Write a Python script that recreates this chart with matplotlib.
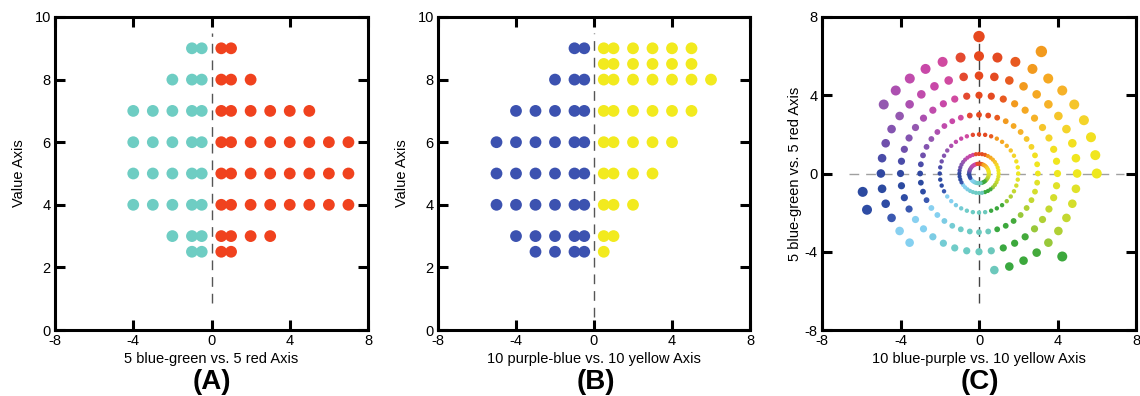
import matplotlib
matplotlib.use("Agg")
import matplotlib.pyplot as plt
import numpy as np

plt.rcParams['font.family'] = ['Liberation Sans', 'DejaVu Sans']

# ---------------- Panel A data ----------------
a_rows = [9, 8, 7, 6, 5, 4, 3, 2.5]
a_teal_x = [[-1, -0.5], [-2, -1, -0.5], [-4, -3, -2, -1, -0.5], [-4, -3, -2, -1, -0.5],
            [-4, -3, -2, -1, -0.5], [-4, -3, -2, -1, -0.5], [-2, -1, -0.5], [-1, -0.5]]
a_red_x = [[0.5, 1], [0.5, 1, 2], [0.5, 1, 2, 3, 4, 5], [0.5, 1, 2, 3, 4, 5, 6, 7],
           [0.5, 1, 2, 3, 4, 5, 6, 7], [0.5, 1, 2, 3, 4, 5, 6, 7], [0.5, 1, 2, 3], [0.5, 1]]

# ---------------- Panel B data ----------------
b_blue_rows = [9, 8, 7, 6, 5, 4, 3, 2.5]
b_blue_x = [[-1, -0.5], [-2, -1, -0.5], [-4, -3, -2, -1, -0.5], [-5, -4, -3, -2, -1, -0.5],
            [-5, -4, -3, -2, -1, -0.5], [-5, -4, -3, -2, -1, -0.5], [-4, -3, -2, -1, -0.5],
            [-3, -2, -1, -0.5]]
b_yellow_rows = [9, 8.5, 8, 7, 6, 5, 4, 3, 2.5]
b_yellow_x = [[0.5, 1, 2, 3, 4, 5], [0.5, 1, 2, 3, 4, 5], [0.5, 1, 2, 3, 4, 5, 6],
              [0.5, 1, 2, 3, 4, 5], [0.5, 1, 2, 3, 4], [0.5, 1, 2, 3], [0.5, 1, 2],
              [0.5, 1], [0.5]]

# ---------------- Panel C data ----------------
# 40 hues, clockwise from the top (red) in 9 degree steps
hue_colors = ['#e6481e', '#e44a22', '#e85a20', '#f29a1e', '#f5a822', '#f6b228', '#f5c52a',
              '#f4d42a', '#f2e020', '#f0e61e', '#eee81e', '#e0e228', '#d4de2c', '#c4d830',
              '#b0d034', '#98c83a', '#44aa3c', '#3ca83c', '#3aa840', '#6cc8bc', '#6ccbc0',
              '#6ccbc4', '#70ccc8', '#74ccd4', '#7ccce4', '#84d0f0', '#88d0f0', '#3a58b0',
              '#2e4ca4', '#2c4aa0', '#3048a0', '#4a4ca8', '#7050ac', '#8454b0', '#9458b0',
              '#ac50b0', '#c04cac', '#c848a8', '#d04aa0', '#e44a30']
max_chroma = [7, 6, 6, 7, 6, 6, 6, 6, 6, 6, 6, 5, 5, 5, 5, 6, 5, 5, 5, 5,
              4, 4, 4, 4, 4, 5, 5, 5, 6, 6, 5, 5, 5, 5, 6, 6, 6, 6, 6, 6]
chroma_levels = [0.5, 1, 2, 3, 4, 5, 6, 7]
color_override = {(15, 6): '#3ca83c'}

TEAL, RED, BLUE, YELLOW = '#6ecdc3', '#f0421e', '#3c52b0', '#f2ea1e'
FS = 10.5

fig = plt.figure(figsize=(11.4, 3.96), dpi=100)
W, H = 1140, 396


def make_ax(left, right, top=17, bottom=330):
    return fig.add_axes([left / W, 1 - bottom / H, (right - left) / W, (bottom - top) / H])


def style(ax, xt, yt):
    for sp in ax.spines.values():
        sp.set_linewidth(2.2)
    ax.tick_params(direction='in', length=7, width=2.2, top=True, right=True,
                   labelsize=FS, pad=3)
    ax.set_xticks(xt)
    ax.set_yticks(yt)
    ax.set_xticklabels([str(v) for v in xt])
    ax.set_yticklabels([str(v) for v in yt])


ms = 72
axA = make_ax(55, 368)
axA.set_xlim(-8, 8)
axA.set_ylim(0, 10)
axA.plot([0, 0], [0.85, 9.5], color='#555555', lw=1, ls=(0, (7, 5)), zorder=1)
for y, xs in zip(a_rows, a_teal_x):
    axA.scatter(xs, [y] * len(xs), s=ms, color=TEAL, edgecolors='none', zorder=2)
for y, xs in zip(a_rows, a_red_x):
    axA.scatter(xs, [y] * len(xs), s=ms, color=RED, edgecolors='none', zorder=2)
style(axA, [-8, -4, 0, 4, 8], [0, 2, 4, 6, 8, 10])
axA.set_xlabel('5 blue-green vs. 5 red Axis', fontsize=FS, labelpad=3)
axA.set_ylabel('Value Axis', fontsize=FS, labelpad=6)

axB = make_ax(438, 750)
axB.set_xlim(-8, 8)
axB.set_ylim(0, 10)
axB.plot([0, 0], [0.4, 9.5], color='#555555', lw=1, ls=(0, (7, 5)), zorder=1)
for y, xs in zip(b_blue_rows, b_blue_x):
    axB.scatter(xs, [y] * len(xs), s=ms, color=BLUE, edgecolors='none', zorder=2)
for y, xs in zip(b_yellow_rows, b_yellow_x):
    axB.scatter(xs, [y] * len(xs), s=ms, color=YELLOW, edgecolors='none', zorder=2)
style(axB, [-8, -4, 0, 4, 8], [0, 2, 4, 6, 8, 10])
axB.set_xlabel('10 purple-blue vs. 10 yellow Axis', fontsize=FS, labelpad=3)
axB.set_ylabel('Value Axis', fontsize=FS, labelpad=6)

axC = make_ax(822, 1136)
axC.set_xlim(-8, 8)
axC.set_ylim(-8, 8)
axC.plot([-6.6, 7.4], [0, 0], color='#a0a0a0', lw=1, ls=(0, (7, 5)), zorder=1)
axC.plot([0, 0], [-6.6, 7.2], color='#444444', lw=1, ls=(0, (7, 5)), zorder=1)
xs, ys, cs, ss = [], [], [], []
for i, (col, mc) in enumerate(zip(hue_colors, max_chroma)):
    ang = np.deg2rad(90 - 9 * i)
    for r in chroma_levels:
        if r > mc:
            continue
        xs.append(r * np.cos(ang))
        ys.append(r * np.sin(ang))
        cs.append(color_override.get((i, r), col))
        d_px = max(4.2, 1.4 * r + 1.6)
        ss.append((d_px * 0.72) ** 2)
axC.scatter(xs, ys, s=ss, c=cs, edgecolors='none', zorder=2)
style(axC, [-8, -4, 0, 4, 8], [-8, -4, 0, 4, 8])
axC.set_xlabel('10 blue-purple vs. 10 yellow Axis', fontsize=FS, labelpad=3)
axC.set_ylabel('5 blue-green vs. 5 red Axis', fontsize=FS, labelpad=2)

for lab, cx in [('(A)', 212), ('(B)', 596), ('(C)', 980)]:
    fig.text(cx / W, 1 - 382 / H, lab, fontsize=20, fontweight='bold',
             ha='center', va='center')

fig.savefig('out.png', dpi=100, facecolor='white')
